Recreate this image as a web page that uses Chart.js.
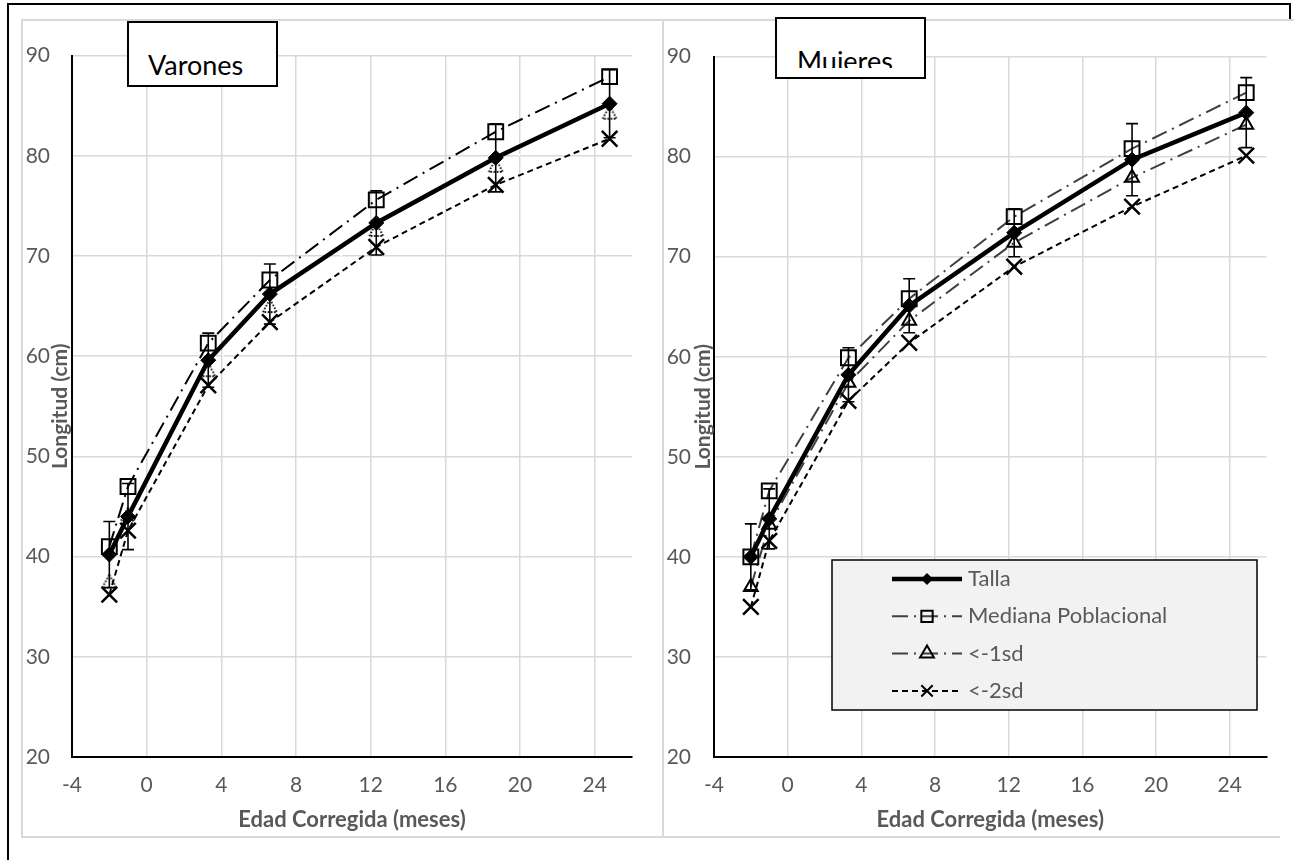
<!DOCTYPE html>
<html lang="es">
<head>
<meta charset="UTF-8">
<title>Longitud por edad corregida</title>
<script src="https://cdn.jsdelivr.net/npm/chart.js"></script>
<style>
  html, body { margin: 0; background: #fff; overflow: hidden; }
  #page { position: relative; width: 1294px; height: 860px; overflow: hidden; background: #fff; }
  .linea { position: absolute; background: #000; }
  .panel { position: absolute; top: 19px; background: #fff; border: 2px solid #d9d9d9; box-sizing: border-box; }
  #pL { left: 21px; width: 643px; height: 819px; }
  #pR { left: 662px; width: 660px; height: 819px; }
  canvas { position: absolute; }
  .tbox { position: absolute; border: 2px solid #000; background: #fff; box-sizing: border-box;
          font-family: Lato, "Open Sans", sans-serif; font-size: 27px; color: #000; overflow: hidden; }
  #tL { left: 127px; top: 21px; width: 151px; height: 66px; }
  #tL span { position: absolute; left: 19px; top: 25px; }
  #tR { left: 775px; top: 17px; width: 151px; height: 62px; }
  #tR .clip { position: absolute; left: 0; top: 0; width: 147px; height: 49px; overflow: hidden; }
  #tR span { position: absolute; left: 20px; top: 25px; }
  #tapa { position: absolute; left: 1280px; top: 22px; width: 20px; height: 850px; background: #fff; }
</style>
</head>
<body>
<div id="page">
  <div class="linea" style="left:7px;top:3px;width:2px;height:857px"></div>
  <div class="linea" style="left:7px;top:3px;width:1284px;height:2px"></div>
  <div class="linea" style="left:1289px;top:3px;width:2px;height:17px"></div>
  <div class="panel" id="pL"></div>
  <div class="panel" id="pR"></div>
  <canvas id="cL" width="639" height="814" style="left:23px;top:21px"></canvas>
  <canvas id="cR" width="615" height="814" style="left:665px;top:21px"></canvas>
  <div id="tapa"></div>
  <div class="tbox" id="tL"><span>Varones</span></div>
  <div class="tbox" id="tR"><div class="clip"><span>Mujeres</span></div></div>
</div>

<script>
// Ejes
const xTicks = [-4, 0, 4, 8, 12, 16, 20, 24];
const yTicks = [20, 30, 40, 50, 60, 70, 80, 90];
const nombres = ['Talla', 'Mediana Poblacional', '<-1sd', '<-2sd'];

// Varones
const edadVarones = [-2, -1, 3.3, 6.6, 12.3, 18.7, 24.8];
const tallaVarones = [40.2, 44.0, 59.6, 66.2, 73.3, 79.8, 85.2];
const medianaVarones = [41.0, 47.0, 61.3, 67.6, 75.6, 82.4, 87.9];
const sd1Varones = [37.5, 44.2, 58.6, 65.0, 72.6, 79.0, 84.3];
const sd2Varones = [36.2, 42.6, 57.1, 63.4, 70.9, 77.1, 81.7];
const errVarones = [3.3, 3.3, 2.7, 3.0, 3.2, 3.4, 3.4];

// Mujeres
const edadMujeres = [-2, -1, 3.3, 6.6, 12.3, 18.7, 24.9];
const tallaMujeres = [40.0, 43.8, 58.2, 65.1, 72.4, 79.7, 84.4];
const medianaMujeres = [40.0, 46.6, 59.9, 65.8, 74.0, 80.8, 86.4];
const sd1Mujeres = [37.0, 43.2, 57.4, 63.6, 71.4, 77.9, 83.2];
const sd2Mujeres = [35.0, 41.6, 55.6, 61.4, 69.0, 75.0, 80.1];
const errMujeres = [3.3, 3.0, 2.7, 2.7, 2.4, 3.6, 3.5];

const FONT = 'Lato, "Open Sans", sans-serif';
const GRIS = '#595959';

function pts(xs, ys) {
    return xs.map((x, i) => ({ x: x, y: ys[i] }));
}

// triangulo con borde punteado (serie <-1sd de varones)
function trianguloPunteado() {
    const c = document.createElement('canvas');
    c.width = 18; c.height = 18;
    const g = c.getContext('2d');
    g.setLineDash([1.6, 1.6]);
    g.lineWidth = 1.8;
    g.strokeStyle = '#000';
    g.beginPath();
    g.moveTo(9, 2); g.lineTo(16, 15); g.lineTo(2, 15); g.closePath();
    g.stroke();
    return c;
}

function marcador(ctx, tipo, x, y, r) {
    ctx.beginPath();
    if (tipo === 'rectRot') {
        ctx.moveTo(x, y - r); ctx.lineTo(x + r, y); ctx.lineTo(x, y + r); ctx.lineTo(x - r, y); ctx.closePath();
        ctx.fill();
    } else if (tipo === 'rect') {
        const s = r * Math.SQRT1_2;
        ctx.rect(x - s, y - s, 2 * s, 2 * s); ctx.stroke();
    } else if (tipo === 'triangle') {
        ctx.moveTo(x, y - r); ctx.lineTo(x + r * 0.866, y + r / 2); ctx.lineTo(x - r * 0.866, y + r / 2); ctx.closePath();
        ctx.stroke();
    } else {
        const s = r * Math.SQRT1_2;
        ctx.moveTo(x - s, y - s); ctx.lineTo(x + s, y + s);
        ctx.moveTo(x + s, y - s); ctx.lineTo(x - s, y + s);
        ctx.stroke();
    }
}

const decorPlugin = {
    id: 'decor',
    afterDatasetsDraw(chart, args, opts) {
        const ctx = chart.ctx;
        const xs = chart.scales.x, ys = chart.scales.y;
        const ca = chart.chartArea;

        // barras de error de la talla
        ctx.save();
        ctx.strokeStyle = '#000';
        ctx.lineWidth = 1.6;
        opts.edad.forEach((e, i) => {
            const px = xs.getPixelForValue(e);
            const yt = ys.getPixelForValue(opts.talla[i] + opts.err[i]);
            const yb = ys.getPixelForValue(opts.talla[i] - opts.err[i]);
            ctx.beginPath();
            ctx.moveTo(px, yt); ctx.lineTo(px, yb);
            ctx.moveTo(px - 6, yt); ctx.lineTo(px + 6, yt);
            ctx.moveTo(px - 6, yb); ctx.lineTo(px + 6, yb);
            ctx.stroke();
        });
        ctx.restore();

        // titulo del eje y (va entre las etiquetas y el eje)
        ctx.save();
        ctx.translate(opts.yTitleX, (ca.top + ca.bottom) / 2);
        ctx.rotate(-Math.PI / 2);
        ctx.fillStyle = GRIS;
        ctx.font = 'bold 21px ' + FONT;
        ctx.textAlign = 'center';
        ctx.textBaseline = 'middle';
        ctx.fillText('Longitud (cm)', 0, 0);
        ctx.restore();

        // leyenda
        if (opts.legend) {
            const L = opts.legend;
            ctx.save();
            ctx.fillStyle = '#f2f2f2';
            ctx.fillRect(L.x, L.y, L.w, L.h);
            ctx.strokeStyle = '#000';
            ctx.lineWidth = 1.5;
            ctx.strokeRect(L.x, L.y, L.w, L.h);
            chart.data.datasets.forEach((ds, i) => {
                const y = L.y + 19 + i * 37.3;
                ctx.strokeStyle = ds.borderColor === '#ffffff' ? '#000' : ds.borderColor;
                ctx.lineWidth = ds.borderWidth;
                ctx.setLineDash(ds.borderDash || []);
                ctx.beginPath();
                ctx.moveTo(L.x + 60, y); ctx.lineTo(L.x + 130, y);
                ctx.stroke();
                ctx.setLineDash([]);
                ctx.fillStyle = '#000';
                ctx.strokeStyle = '#000';
                ctx.lineWidth = 2;
                marcador(ctx, ds.pointStyle, L.x + 95, y, i === 0 ? 6 : 8);
                ctx.fillStyle = GRIS;
                ctx.font = '22px ' + FONT;
                ctx.textAlign = 'left';
                ctx.textBaseline = 'middle';
                ctx.fillText(ds.label, L.x + 136, y);
            });
            ctx.restore();
        }
    }
};

function crearGrafico(id, datos, extra) {
    const datasets = [
        {
            label: nombres[0], data: pts(datos.edad, datos.talla), order: 0,
            borderColor: '#000', borderWidth: 4.5,
            pointStyle: 'rectRot', pointRadius: 7.5, pointBackgroundColor: '#000', pointBorderColor: '#000', pointBorderWidth: 1
        },
        {
            label: nombres[1], data: pts(datos.edad, datos.mediana), order: 1,
            borderColor: datos.colMediana, borderWidth: 2, borderDash: [16, 6, 2, 6],
            pointStyle: 'rect', pointRadius: 10.5, pointBackgroundColor: 'rgba(0,0,0,0)', pointBorderColor: '#000', pointBorderWidth: 2
        },
        {
            label: nombres[2], data: pts(datos.edad, datos.sd1), order: 3,
            borderColor: datos.colSd1, borderWidth: 2, borderDash: datos.dashSd1,
            pointStyle: datos.estiloSd1, pointRadius: 8, pointBackgroundColor: 'rgba(0,0,0,0)', pointBorderColor: '#000', pointBorderWidth: 2
        },
        {
            label: nombres[3], data: pts(datos.edad, datos.sd2), order: 2,
            borderColor: '#000', borderWidth: 2, borderDash: [6, 4],
            pointStyle: 'crossRot', pointRadius: 11, pointBorderColor: '#000', pointBorderWidth: 2.5
        }
    ];

    return new Chart(document.getElementById(id), {
        type: 'scatter',
        data: { datasets: datasets },
        options: {
            responsive: false,
            animation: false,
            showLine: true,
            layout: { padding: { left: 0, top: 31, right: extra.padRight, bottom: 0 } },
            scales: {
                x: {
                    type: 'linear', min: -4, max: 26,
                    afterBuildTicks: s => { s.ticks = xTicks.map(v => ({ value: v })); },
                    afterFit: s => { s.height = 78; },
                    grid: { color: '#d9d9d9', lineWidth: 1.5, drawTicks: false },
                    border: { color: '#000', width: 2 },
                    ticks: { color: GRIS, font: { family: FONT, size: 21 }, padding: 16, maxRotation: 0 },
                    title: { display: true, text: 'Edad Corregida (meses)', color: GRIS,
                             font: { family: FONT, size: 22, weight: 'bold' }, padding: { top: 0, bottom: 2 } }
                },
                y: {
                    type: 'linear', min: 20, max: 90,
                    afterBuildTicks: s => { s.ticks = yTicks.map(v => ({ value: v })); },
                    afterFit: s => { s.width = 49; },
                    grid: { color: '#d9d9d9', lineWidth: 1.5, drawTicks: false },
                    border: { color: '#000', width: 2 },
                    ticks: { color: GRIS, font: { family: FONT, size: 21 }, padding: extra.yPad }
                }
            },
            plugins: {
                legend: { display: false },
                tooltip: { enabled: false },
                decor: {
                    edad: datos.edad, talla: datos.talla, err: datos.err,
                    yTitleX: extra.yTitleX, legend: extra.legend
                }
            }
        },
        plugins: [decorPlugin]
    });
}

crearGrafico('cL', {
    edad: edadVarones, talla: tallaVarones, mediana: medianaVarones,
    sd1: sd1Varones, sd2: sd2Varones, err: errVarones,
    colMediana: '#000', colSd1: '#ffffff', dashSd1: [2, 3], estiloSd1: trianguloPunteado()
}, { padRight: 30, yPad: 22, yTitleX: 37, legend: null });

crearGrafico('cR', {
    edad: edadMujeres, talla: tallaMujeres, mediana: medianaMujeres,
    sd1: sd1Mujeres, sd2: sd2Mujeres, err: errMujeres,
    colMediana: '#404040', colSd1: '#404040', dashSd1: [16, 6, 2, 6], estiloSd1: 'triangle'
}, { padRight: 10, yPad: 23, yTitleX: 38, legend: { x: 167, y: 539, w: 425, h: 150 } });
</script>
</body>
</html>
